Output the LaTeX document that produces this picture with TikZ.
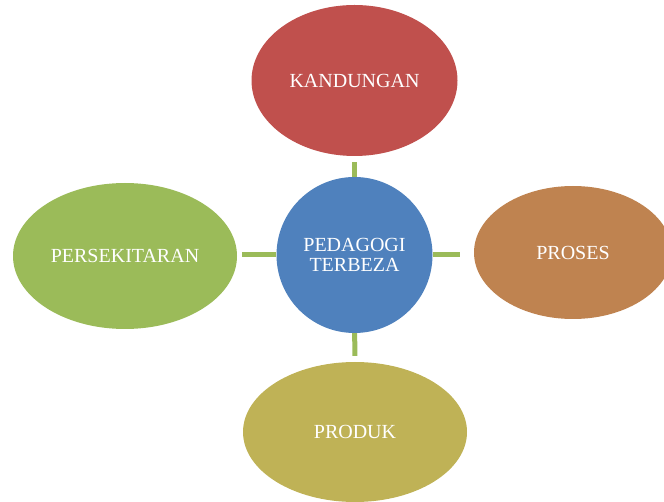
\documentclass[tikz,border=0pt]{standalone}
\usepackage{fontspec}
\setmainfont{Liberation Serif}
\usetikzlibrary{shapes.geometric}

\definecolor{kandred}{HTML}{C0504D}
\definecolor{pedblue}{HTML}{4F81BD}
\definecolor{prosorange}{HTML}{BF8350}
\definecolor{persgreen}{HTML}{9BBB59}
\definecolor{prodolive}{HTML}{BFB256}

\tikzset{
    blob/.style={ellipse, inner sep=0pt, text=white,
        font=\fontsize{20}{20}\selectfont},
    hub/.style={circle, fill=pedblue, inner sep=0pt, minimum size=156pt,
        text=white, align=center, font=\fontsize{20}{20}\selectfont},
    link/.style={persgreen, line width=5pt, shorten >=6pt}
}

\begin{document}
\begin{tikzpicture}[x=1pt, y=-1pt]
        % page frame (pixels of the reference)
        \useasboundingbox (0,0) rectangle (664,502);
        \clip (0,0) rectangle (664,502);

        % centre circle
        \node[hub] (pedagogi) at (354.5,255) {PEDAGOGI\\TERBEZA};

        % the four ellipses round it
        \node[blob, fill=kandred, minimum width=206pt, minimum height=151pt]
            (kandungan) at (354.5,80.5) {KANDUNGAN}; % top
        \node[blob, fill=prosorange, minimum width=198pt, minimum height=133pt]
            (proses) at (573,252.5) {PROSES}; % right
        \node[blob, fill=persgreen, minimum width=224pt, minimum height=146pt]
            (persekitaran) at (125,256) {PERSEKITARAN}; % left
        \node[blob, fill=prodolive, minimum width=224pt, minimum height=140pt]
            (produk) at (355,432) {PRODUK}; % bottom

        % green connectors
        \draw[link] (pedagogi) -- (kandungan);
        \draw[link, shorten >=14pt] (pedagogi.east) -- (pedagogi.east -| proses.west);
        \draw[link, shorten >=5pt] (pedagogi.west) -- (pedagogi.west -| persekitaran.east);
        \draw[link] (pedagogi) -- (produk);
\end{tikzpicture}
\end{document}
